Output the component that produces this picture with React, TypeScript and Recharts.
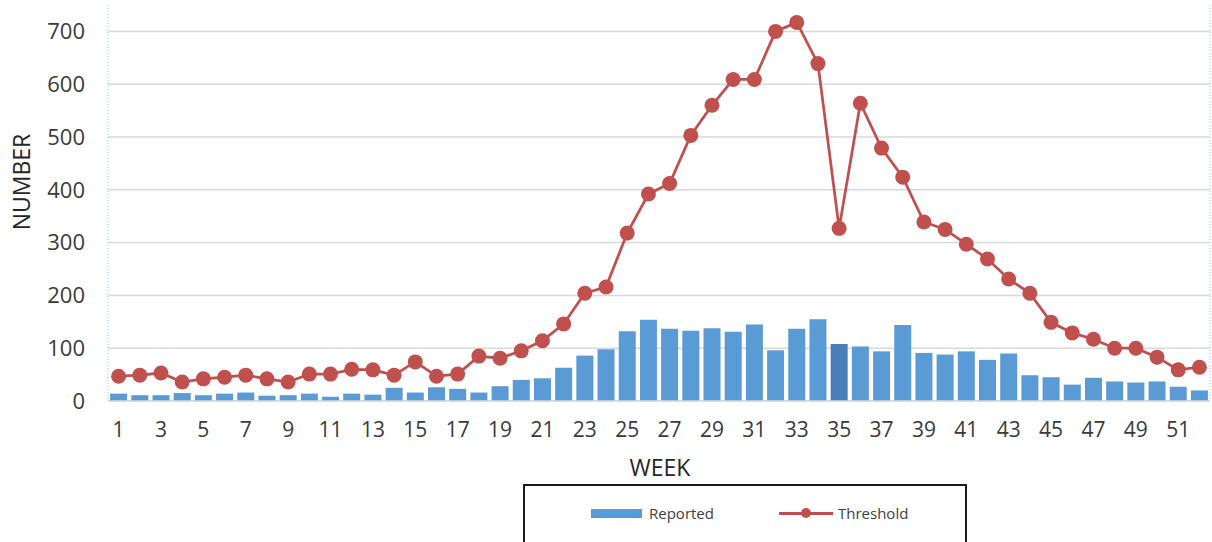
import { ComposedChart, Bar, Line, XAxis, YAxis, CartesianGrid, Cell } from 'recharts';

const WEEKS = [
  1, 2, 3, 4, 5, 6, 7, 8, 9, 10, 11, 12, 13, 14, 15, 16, 17, 18, 19, 20, 21, 22, 23, 24, 25, 26,
  27, 28, 29, 30, 31, 32, 33, 34, 35, 36, 37, 38, 39, 40, 41, 42, 43, 44, 45, 46, 47, 48, 49, 50, 51, 52,
];

const REPORTED = [
  14, 11, 11, 15, 11, 14, 16, 10, 11, 14, 8, 14, 12, 25, 16, 26, 23, 16, 28, 40, 43, 63, 86, 98, 132, 154,
  137, 133, 138, 131, 145, 96, 137, 155, 108, 103, 94, 144, 91, 88, 94, 78, 90, 49, 45, 31, 44, 37, 35, 37, 27, 20,
];

const THRESHOLD = [
  47, 49, 53, 36, 42, 45, 49, 42, 36, 51, 51, 60, 59, 49, 74, 47, 51, 85, 81, 95, 114, 146, 204, 216, 318, 392,
  412, 503, 560, 609, 609, 700, 717, 639, 327, 564, 479, 424, 339, 325, 297, 269, 231, 204, 149, 129, 117, 100, 100, 83, 59, 64,
];

const Y_MAX = 750;
const Y_TICKS = [0, 100, 200, 300, 400, 500, 600, 700];
const HIGHLIGHT_WEEK = 35;

const BAR_COLOR = '#5B9BD5';
const BAR_HIGHLIGHT = '#4A7EBB';
const LINE_COLOR = '#C0504D';
const FONT = '"Open Sans", sans-serif';

const data = WEEKS.map((week, i) => ({
  week,
  reported: REPORTED[i],
  threshold: THRESHOLD[i],
}));

// gridlines only at the labelled values, none at the top of the domain
const gridRows = ({ yAxis, offset }: any) =>
  Y_TICKS.map((t) => {
    const s = yAxis?.scale;
    if (typeof s === 'function') return s(t);
    if (s && typeof s.map === 'function') return s.map(t);
    return offset.top + offset.height * (1 - t / Y_MAX);
  });

export default function App() {
  return (
    <div style={{ position: 'fixed', left: 0, top: 0, width: 1212, height: 542, background: '#fff', fontFamily: FONT }}>
      <ComposedChart
        width={1212}
        height={542}
        data={data}
        margin={{ top: 5, right: 0, left: 0, bottom: 101 }}
        barCategoryGap="10%"
        style={{ fontFamily: FONT }}
      >
        <CartesianGrid
          vertical={false}
          stroke="#d9d9d9"
          strokeWidth={1.5}
          yAxisId="l"
          horizontalCoordinatesGenerator={gridRows}
        />
        <XAxis
          dataKey="week"
          interval={1}
          height={40}
          tickSize={0}
          tickMargin={21}
          tickLine={false}
          axisLine={{ stroke: '#d9d9d9', strokeWidth: 1.5 }}
          tick={{ fill: '#3a3a3a', fontSize: 21 }}
        />
        <YAxis
          yAxisId="l"
          width={108}
          domain={[0, Y_MAX]}
          ticks={Y_TICKS}
          tickSize={0}
          tickMargin={23}
          tickLine={false}
          axisLine={{ stroke: '#9dc3e6', strokeDasharray: '1 2' }}
          tick={{ fill: '#3a3a3a', fontSize: 22 }}
        />
        <YAxis
          yAxisId="r"
          orientation="right"
          width={2}
          domain={[0, Y_MAX]}
          ticks={Y_TICKS}
          tick={false}
          tickLine={false}
          axisLine={{ stroke: '#9dc3e6', strokeDasharray: '1 2' }}
        />
        <Bar yAxisId="l" dataKey="reported" fill={BAR_COLOR} isAnimationActive={false}>
          {data.map((d) => (
            <Cell key={d.week} fill={d.week === HIGHLIGHT_WEEK ? BAR_HIGHLIGHT : BAR_COLOR} />
          ))}
        </Bar>
        <Line
          yAxisId="l"
          type="linear"
          dataKey="threshold"
          stroke={LINE_COLOR}
          strokeWidth={2.75}
          dot={{ r: 7.5, fill: LINE_COLOR, stroke: 'none' }}
          activeDot={false}
          isAnimationActive={false}
        />
      </ComposedChart>

      <div
        style={{
          position: 'absolute', left: 12, top: 182, transform: 'translate(-50%, -50%) rotate(-90deg)',
          marginLeft: 9, fontSize: 23, color: '#262626', whiteSpace: 'nowrap', lineHeight: 1,
        }}
      >
        NUMBER
      </div>
      <div
        style={{
          position: 'absolute', left: 660, top: 467, transform: 'translate(-50%, -50%)',
          fontSize: 23, color: '#262626', whiteSpace: 'nowrap', lineHeight: 1,
        }}
      >
        WEEK
      </div>

      <div
        style={{
          position: 'absolute', left: 523, top: 484, width: 440, height: 80,
          border: '2px solid #1a1a1a', background: '#fff',
        }}
      />
      <div style={{ position: 'absolute', left: 591, top: 509, width: 51, height: 9, background: BAR_COLOR }} />
      <div
        style={{ position: 'absolute', left: 649, top: 513, transform: 'translateY(-50%)', fontSize: 15, color: '#404040', lineHeight: 1 }}
      >
        Reported
      </div>
      <div style={{ position: 'absolute', left: 779, top: 512, width: 54, height: 2.5, background: LINE_COLOR }} />
      <div
        style={{ position: 'absolute', left: 801, top: 508, width: 10, height: 10, borderRadius: '50%', background: LINE_COLOR }}
      />
      <div
        style={{ position: 'absolute', left: 838, top: 513, transform: 'translateY(-50%)', fontSize: 15, color: '#404040', lineHeight: 1 }}
      >
        Threshold
      </div>
    </div>
  );
}
